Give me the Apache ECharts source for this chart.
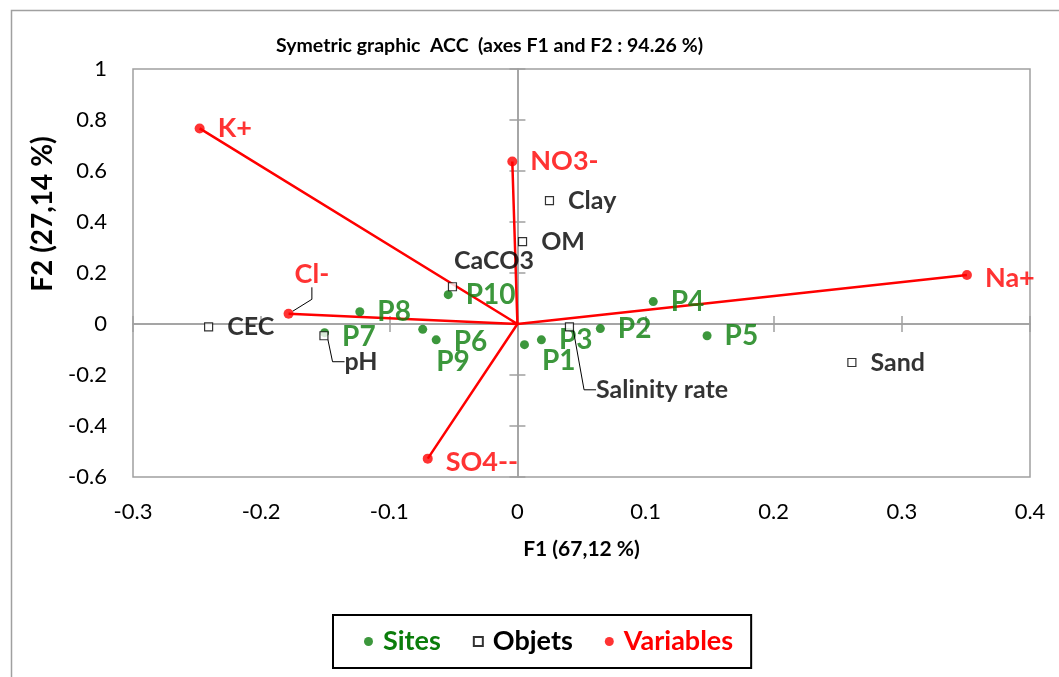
<!DOCTYPE html>
<html>
<head>
<meta charset="utf-8">
<script src="https://cdn.jsdelivr.net/npm/echarts@6/dist/echarts.min.js"></script>
<style>html,body{margin:0;padding:0;background:#fff}#c{width:1059px;height:677px}</style>
</head>
<body>
<div id="c"></div>
<script>
// ---- data ----
const siteNames = ['P1','P2','P3','P4','P5','P6','P7','P8','P9','P10'];
const siteF1 = [0.0055, 0.0647, 0.0187, 0.106, 0.148, -0.0634, -0.1505, -0.123, -0.0739, -0.054];
const siteF2 = [-0.081, -0.018, -0.062, 0.088, -0.046, -0.062, -0.034, 0.048, -0.021, 0.115];

const objetNames = ['Clay','OM','CaCO3','CEC','pH','Salinity rate','Sand'];
const objetF1 = [0.025, 0.004, -0.0507, -0.241, -0.151, 0.0406, 0.261];
const objetF2 = [0.484, 0.323, 0.146, -0.011, -0.046, -0.011, -0.151];

const varNames = ['K+','NO3-','Na+','Cl-','SO4--'];
const varF1 = [-0.248, -0.004, 0.3508, -0.1786, -0.070];
const varF2 = [0.767, 0.637, 0.192, 0.040, -0.528];

const xMin = -0.3, xMax = 0.4, xStep = 0.1;
const yMin = -0.6, yMax = 1, yStep = 0.2;

// ---- styles ----
const GREEN = '#0b7d0b', RED = '#ff0000', GRAY = '#a0a0a0';
const FONT = 'Lato';
const labelShift = {
  'Cl-': [-12, -40], 'CaCO3': [-17, -26], 'pH': [2, 26], 'Salinity rate': [8, 63],
  'P9': [-4, 33], 'P1': [0, 16], 'P7': [0, 4], 'P6': [0, 2], 'Na+': [0, 3], 'SO4--': [0, 4]
};
const leaderNames = ['Cl-', 'pH', 'Salinity rate'];

function items(names, xs, ys) {
  return names.map((n, i) => {
    const d = { name: n, value: [xs[i], ys[i]] };
    if (leaderNames.indexOf(n) >= 0) {
      d.labelLine = { show: true, length2: 12, lineStyle: { color: '#000', width: 1 } };
    }
    return d;
  });
}
function layoutFor(names) {
  return function (p) {
    const s = labelShift[names[p.dataIndex]];
    return s ? { dx: s[0], dy: s[1] } : {};
  };
}
const vecData = [];
varNames.forEach((n, i) => { vecData.push([0, 0]); vecData.push([varF1[i], varF2[i]]); });

function tickAxis(pos) {
  return {
    type: 'value', position: pos,
    axisLine: { show: true, onZero: true, onZeroAxisIndex: 0, lineStyle: { color: GRAY, width: 1.5 } },
    axisTick: { show: true, length: 8, lineStyle: { color: GRAY, width: 1.5 } },
    axisLabel: { show: false }, splitLine: { show: false }
  };
}
function xTick(pos) { const a = tickAxis(pos); a.min = xMin; a.max = xMax; a.interval = xStep; return a; }
function yTick(pos) { const a = tickAxis(pos); a.min = yMin; a.max = yMax; a.interval = yStep; return a; }

const chart = echarts.init(document.getElementById('c'), null, { renderer: 'canvas' });
chart.setOption({
  backgroundColor: '#fff',
  animation: false,
  title: {
    text: 'Symetric graphic  ACC  (axes F1 and F2 : 94.26 %)',
    left: 276, top: 36, padding: 0,
    textStyle: { fontFamily: FONT, fontWeight: 'bold', fontSize: 19.5, color: '#000' }
  },
  graphic: [
    { type: 'rect', z: -10, shape: { x: 11.5, y: 10.5, width: 1100, height: 700 },
      style: { fill: 'none', stroke: GRAY, lineWidth: 1.5 } },
    { type: 'text', x: 43, y: 214, rotation: Math.PI / 2,
      style: { text: 'F2 (27,14 %)', fontFamily: FONT, fontWeight: 'bold', fontSize: 28,
               fill: '#000', align: 'center', verticalAlign: 'middle' } }
  ],
  grid: { left: 133, right: 29, top: 69, bottom: 200, show: true, borderColor: GRAY, borderWidth: 1.5, containLabel: false },
  legend: {
    left: 333, top: 615,
    data: [
      { name: 'Sites', icon: 'circle', textStyle: { color: GREEN } },
      { name: 'Objets', icon: 'rect', textStyle: { color: '#000' } },
      { name: 'Variables', icon: 'circle', textStyle: { color: RED } }
    ],
    itemWidth: 9, itemHeight: 9, itemGap: 32,
    borderColor: '#000', borderWidth: 2, borderRadius: 0,
    padding: [13, 18, 13, 31],
    textStyle: { fontFamily: FONT, fontWeight: 'bold', fontSize: 27, padding: [0, 0, 0, 5] }
  },
  xAxis: [
    {
      type: 'value', min: xMin, max: xMax, interval: xStep, position: 'bottom',
      axisLine: { show: false, onZero: false }, axisTick: { show: false }, splitLine: { show: false },
      axisLabel: { fontFamily: FONT, fontSize: 22, color: '#000', margin: 24 },
      name: 'F1 (67,12 %)', nameLocation: 'middle', nameGap: 62,
      nameTextStyle: { fontFamily: FONT, fontWeight: 'bold', fontSize: 21, color: '#000' }
    },
    xTick('bottom'), xTick('top')
  ],
  yAxis: [
    {
      type: 'value', min: yMin, max: yMax, interval: yStep, position: 'left',
      axisLine: { show: false, onZero: false }, axisTick: { show: false }, splitLine: { show: false },
      axisLabel: { fontFamily: FONT, fontSize: 22, color: '#000', margin: 26 }
    },
    yTick('left'), yTick('right')
  ],
  series: [
    {
      name: 'vectors', type: 'line', data: vecData, symbol: 'none', silent: true, z: 2,
      lineStyle: { color: RED, width: 2.5 }
    },
    {
      name: 'Sites', type: 'scatter', z: 4, symbol: 'circle', symbolSize: 9,
      itemStyle: { color: GREEN },
      data: items(siteNames, siteF1, siteF2),
      label: { show: true, position: 'right', distance: 13, formatter: '{b}',
               fontFamily: FONT, fontWeight: 'bold', fontSize: 28, color: GREEN },
      labelLayout: layoutFor(siteNames)
    },
    {
      name: 'Objets', type: 'scatter', z: 5, symbol: 'rect', symbolSize: 8,
      itemStyle: { color: '#fff', borderColor: '#000', borderWidth: 1.2 },
      data: items(objetNames, objetF1, objetF2),
      label: { show: true, position: 'right', distance: 14, formatter: '{b}',
               fontFamily: FONT, fontWeight: 'bold', fontSize: 25, color: '#000' },
      labelLayout: layoutFor(objetNames)
    },
    {
      name: 'Variables', type: 'scatter', z: 6, symbol: 'circle', symbolSize: 10,
      itemStyle: { color: RED },
      data: items(varNames, varF1, varF2),
      label: { show: true, position: 'right', distance: 13, formatter: '{b}',
               fontFamily: FONT, fontWeight: 'bold', fontSize: 27, color: RED },
      labelLayout: layoutFor(varNames)
    }
  ]
});
</script>
</body>
</html>
